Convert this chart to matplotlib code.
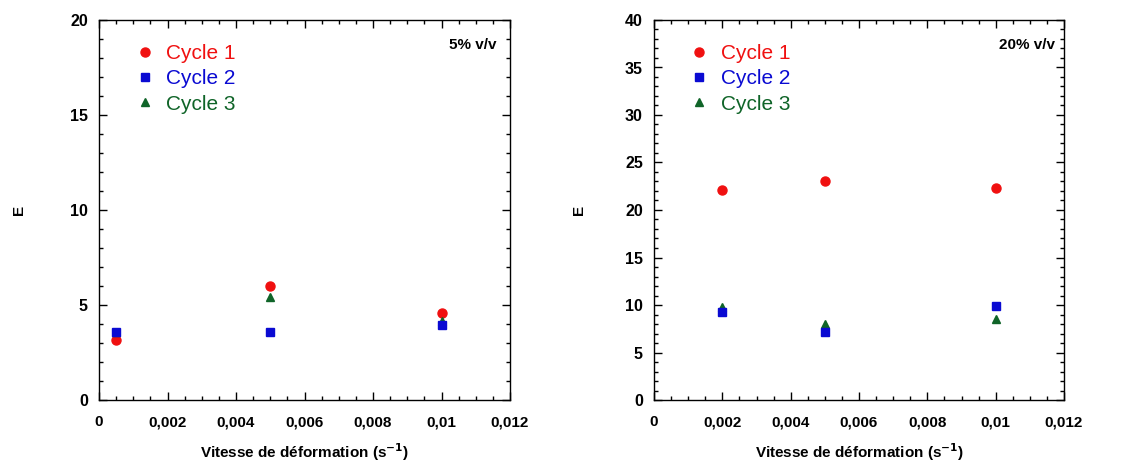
import matplotlib
matplotlib.use("Agg")
import matplotlib.pyplot as plt
from matplotlib.ticker import MultipleLocator, FixedLocator

plt.rcParams['font.family'] = ['Liberation Sans', 'DejaVu Sans']

# Data: 5% v/v
x5_c1 = [0.0005, 0.005, 0.01]
y5_c1 = [3.16, 6.0, 4.56]
x5_c2 = [0.0005, 0.005, 0.01]
y5_c2 = [3.56, 3.56, 3.95]
x5_c3 = [0.0005, 0.005, 0.01]
y5_c3 = [3.56, 5.42, 4.17]

# Data: 20% v/v
x20_c1 = [0.002, 0.005, 0.01]
y20_c1 = [22.07, 23.05, 22.35]
x20_c2 = [0.002, 0.005, 0.01]
y20_c2 = [9.3, 7.2, 9.93]
x20_c3 = [0.002, 0.005, 0.01]
y20_c3 = [9.75, 7.96, 8.5]

series_labels = ['Cycle 1', 'Cycle 2', 'Cycle 3']
x_ticks = [0, 0.002, 0.004, 0.006, 0.008, 0.01, 0.012]
x_ticklabels = ['0', '0,002', '0,004', '0,006', '0,008', '0,01', '0,012']
panel_titles = ['5% v/v', '20% v/v']

RED = '#f01010'
BLUE = '#0a0ad2'
GREEN = '#0f6428'

fig = plt.figure(figsize=(11.21, 4.61), dpi=100)
ax1 = fig.add_axes([99/1121, 1-400/461, 411/1121, 380/461])
ax2 = fig.add_axes([654/1121, 1-400/461, 410/1121, 380/461])

def draw(ax, d, ymax, ymajor, title, ylab_x):
    (xc1, yc1), (xc2, yc2), (xc3, yc3) = d
    ax.plot(xc1, yc1, 'o', color=RED, ms=6.5, ls='none', label=series_labels[0], zorder=3)
    ax.plot(xc3, yc3, '^', color=GREEN, ms=6, ls='none', label=series_labels[2], zorder=4)
    ax.plot(xc2, yc2, 's', color=BLUE, ms=6, ls='none', label=series_labels[1], zorder=5)
    ax.set_xlim(0, 0.012)
    ax.set_ylim(0, ymax)
    ax.xaxis.set_major_locator(FixedLocator(x_ticks))
    ax.set_xticklabels(x_ticklabels)
    ax.xaxis.set_minor_locator(MultipleLocator(0.0005))
    ax.yaxis.set_major_locator(MultipleLocator(ymajor))
    ax.yaxis.set_minor_locator(MultipleLocator(1))
    ax.tick_params(which='both', direction='in', top=True, right=True, width=1)
    ax.tick_params(which='major', length=6)
    ax.tick_params(which='minor', length=3)
    ax.tick_params(axis='x', which='major', pad=11, labelsize=11)
    ax.tick_params(axis='y', which='major', pad=8, labelsize=11.5)
    for lab in ax.get_xticklabels() + ax.get_yticklabels():
        lab.set_fontweight('bold')
    for sp in ax.spines.values():
        sp.set_linewidth(1)
    ax.set_xlabel('Vitesse de déformation (s$^{\\mathbf{-1}}$)', fontsize=11, fontweight='bold')
    ax.xaxis.set_label_coords(0.5, -0.108)
    ax.set_ylabel('E', fontsize=11, fontweight='bold')
    ax.yaxis.set_label_coords(ylab_x, 0.5)
    ax.text(0.91, 0.935, title, transform=ax.transAxes, ha='center', va='center',
            fontsize=11, fontweight='bold')
    h, l = ax.get_legend_handles_labels()
    order = [0, 2, 1]
    h = [h[i] for i in order]
    l = [l[i] for i in order]
    ax.legend(h, l, loc='upper left', bbox_to_anchor=(0.05, 0.975), frameon=False,
              fontsize=15, handlelength=1.0, handletextpad=0.55, labelspacing=0.3,
              labelcolor='markerfacecolor', borderpad=0.2)

draw(ax1, [(x5_c1, y5_c1), (x5_c2, y5_c2), (x5_c3, y5_c3)], 20, 5, panel_titles[0], -0.178)
draw(ax2, [(x20_c1, y20_c1), (x20_c2, y20_c2), (x20_c3, y20_c3)], 40, 5, panel_titles[1], -0.165)

fig.savefig('out.png', dpi=100)
